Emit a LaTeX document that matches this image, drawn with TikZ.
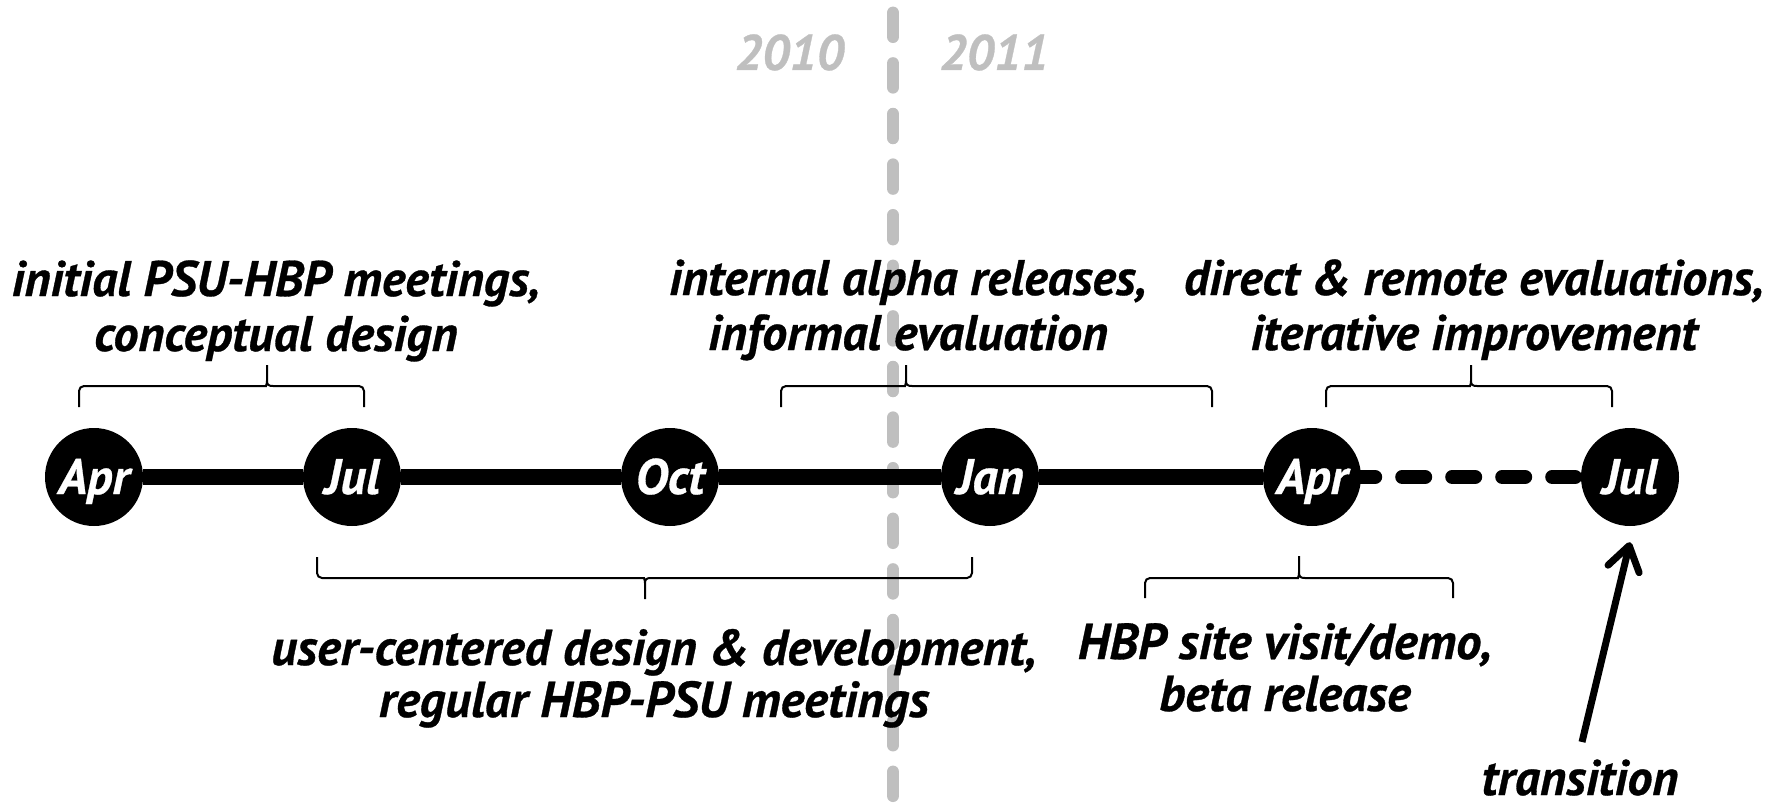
\documentclass[tikz,border=0pt]{standalone}
\usepackage{fontspec}
\setmainfont{PT Sans}
\newfontfamily\heavy{PT Sans}[UprightFont={* Bold Italic}, FakeBold=0.6]
\usetikzlibrary{arrows.meta}
\newcommand\mybrace[6]{%
  \draw[br] (#1,#4) [rounded corners=5pt] -- (#1,#5) -- ({#3-6},#5) [sharp corners]
    .. controls ({#3-1.5},#5) and (#3,{#5+0.06*(#6-#5)}) .. (#3,{#5+0.25*(#6-#5)})
    -- (#3,#6) -- (#3,{#5+0.25*(#6-#5)})
    .. controls (#3,{#5+0.06*(#6-#5)}) and ({#3+1.5},#5) .. ({#3+6},#5)
    [rounded corners=5pt] -- (#2,#5) -- (#2,#4);}
\begin{document}
\begin{tikzpicture}[x=1pt,y=-1pt,
  lbl/.style={font=\fontsize{50pt}{55pt}\selectfont\heavy, align=center, anchor=base, inner sep=0pt},
  lblb/.style={lbl, font=\fontsize{50.5pt}{52pt}\selectfont\heavy},
  month/.style={circle, fill=black, minimum size=98pt, inner sep=0pt, text=white,
    font=\fontsize{50pt}{50pt}\selectfont\heavy, text height=34pt, text depth=0pt},
  tl/.style={line width=16pt},
  tldash/.style={line width=14pt, line cap=round, dash pattern=on 23pt off 27pt, dash phase=9pt},
  yearline/.style={line width=12.5pt, line cap=round, draw=gray!50, dash pattern=on 24pt off 26.6pt},
  yr/.style={font=\fontsize{50pt}{50pt}\selectfont\heavy, text=gray!50, anchor=base, inner sep=0pt},
  br/.style={line width=2pt},
  arr/.style={line width=7pt, -{Straight Barb[length=24pt,width=32pt,round]}}
]
\useasboundingbox (0,0) rectangle (1770,808);
% year divider
\coordinate (ytop) at (893,12.8);
\coordinate (ybot) at (893,808);
\draw[yearline] (ytop) -- (ybot);
\node[yr] (y2010) at (789.5,70) {2010};
\node[yr] (y2011) at (994,70) {2011};
% months
\node[month] (apr1) at (94,477) {Apr};
\node[month] (jul1) at (352,477) {Jul};
\node[month] (oct)  at (670,477) {Oct};
\node[month] (jan)  at (990,477) {Jan};
\node[month] (apr2) at (1312,477) {Apr};
\node[month] (jul2) at (1630,477) {Jul};
\draw[tl] (apr1) -- (jul1) -- (oct) -- (jan) -- (apr2);
\draw[tldash] (apr2) -- (jul2);
% labels above
\node[lbl] (t1) at (276,351) {initial PSU-HBP meetings,\\conceptual design};
\node[lbl] (t2) at (908,350) {internal alpha releases,\\informal evaluation};
\node[lbl] (t3) at (1474,350) {direct \& remote evaluations,\\iterative improvement};
\mybrace{79}{364}{267}{407}{386}{365}
\mybrace{781}{1212}{906}{407}{386}{365}
\mybrace{1326}{1612}{1471}{407}{386}{365}
% labels below
\mybrace{317}{972}{645}{557}{578}{599}
\mybrace{1145}{1453}{1299}{598}{578}{556}
\node[lblb] (b1) at (654,717) {user-centered design \& development,\\regular HBP-PSU meetings};
\node[lblb] (b2) at (1285,711) {HBP site visit/demo,\\beta release};
% transition
\node[lbl] (trans) at (1580,795) {transition};
\coordinate (atail) at (1582,742);
\draw[arr] (atail) -- ([yshift=-16pt]jul2.south);
\end{tikzpicture}
\end{document}
